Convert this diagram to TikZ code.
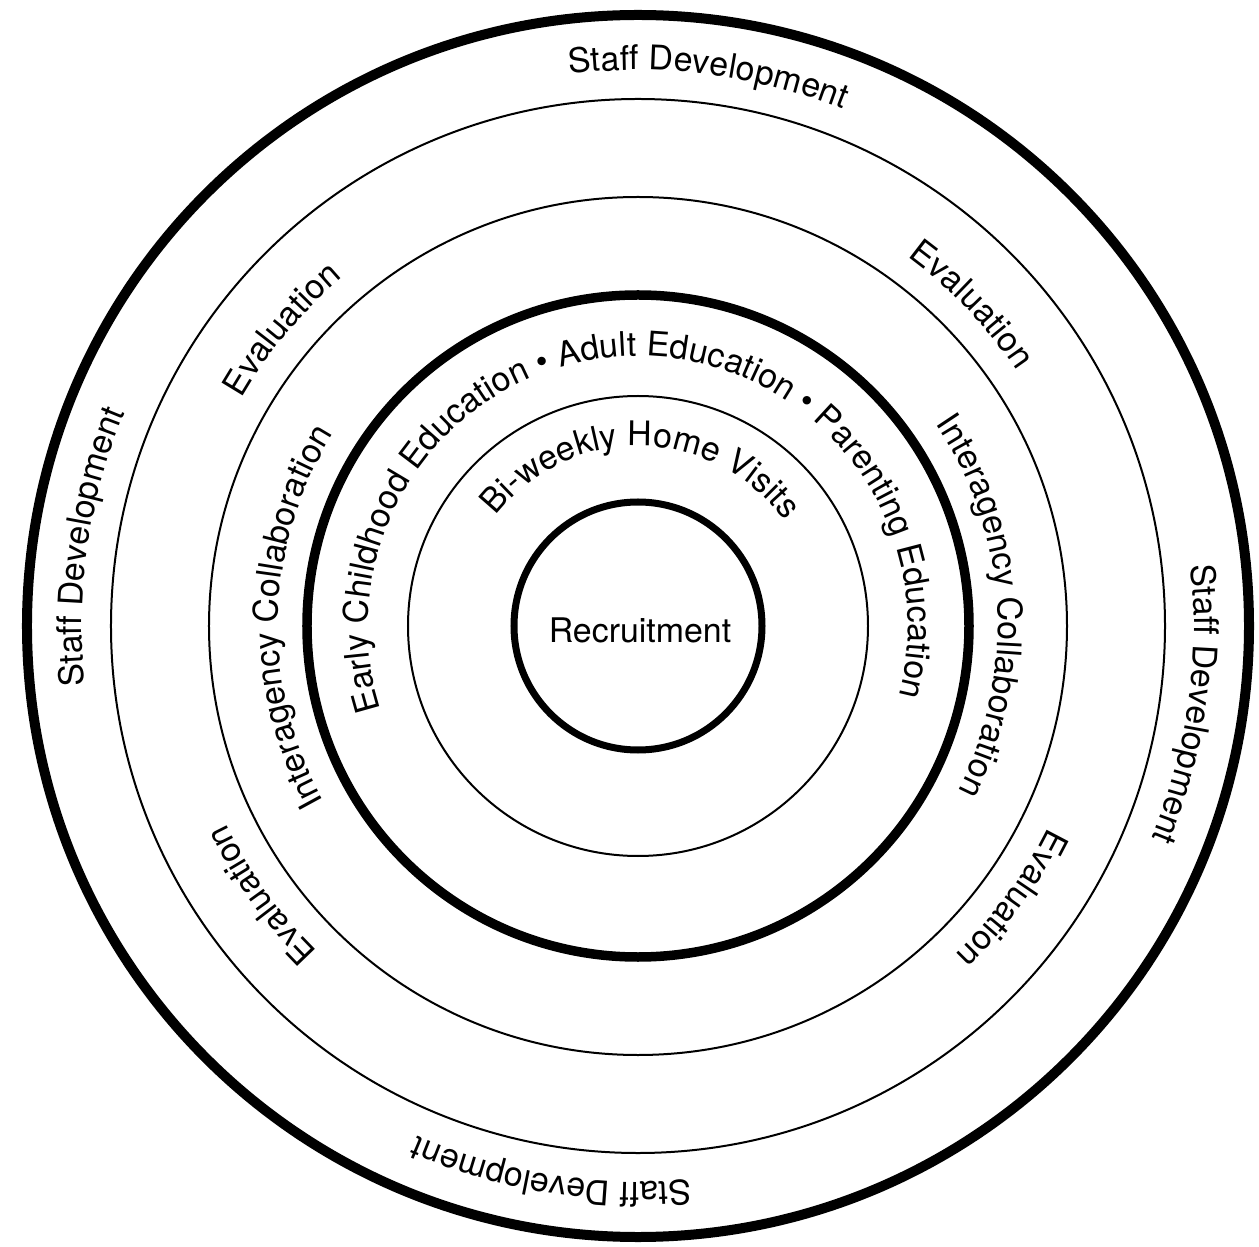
\documentclass[tikz,border=0pt]{standalone}
\usepackage{fontspec}
\setmainfont{TeX Gyre Heros}
\usetikzlibrary{decorations.text}
\newcommand{\ringfont}{\fontsize{19.3}{23}\selectfont}
\newcommand{\ringlabel}[3]{%
    \path[ringtext={#3}] ({#2+125}:#1) arc[start angle={#2+125}, end angle={#2-125}, radius=#1];}

\begin{document}
\begin{tikzpicture}[
    thickring/.style={draw=black, line width=0.2cm},
    midring/.style={draw=black, line width=0.19cm},
    innerring/.style={draw=black, line width=0.14cm},
    thinring/.style={draw=black, line width=0.04cm},
    ringtext/.style={decorate, decoration={text along path, text align=center,
        text={|\ringfont|#1}}}
]
    \useasboundingbox (-12.76,-12.40) rectangle (12.42,12.52);
    \coordinate (c) at (0,0);

    \draw[thickring] (c) circle[radius=12.22];
    \draw[thinring] (c) circle[radius=10.54];
    \draw[thinring] (c) circle[radius=8.58];
    \draw[midring] (c) circle[radius=6.62];
    \draw[thinring] (c) circle[radius=4.60];
    \draw[innerring] (c) circle[radius=2.48];

    \node[font=\ringfont, inner sep=0pt] (recruit) at (0.04,-0.08) {Recruitment};

    \ringlabel{11.12}{82.7}{Staff Development}
    \ringlabel{11.12}{171.8}{Staff Development}
    \ringlabel{11.12}{261}{Staff Development}
    \ringlabel{11.12}{351.9}{Staff Development}

    \ringlabel{9.14}{140.2}{Evaluation}
    \ringlabel{9.14}{43.9}{Evaluation}
    \ringlabel{9.14}{323.9}{Evaluation}
    \ringlabel{9.14}{215.5}{Evaluation}

    \ringlabel{7.2}{178.5}{Interagency Collaboration}
    \ringlabel{7.2}{3.5}{Interagency Collaboration}

    \ringlabel{5.4}{91.5}{Early Childhood Education • Adult Education • Parenting Education}
    \ringlabel{3.6}{89}{Bi-weekly Home Visits}
\end{tikzpicture}
\end{document}
